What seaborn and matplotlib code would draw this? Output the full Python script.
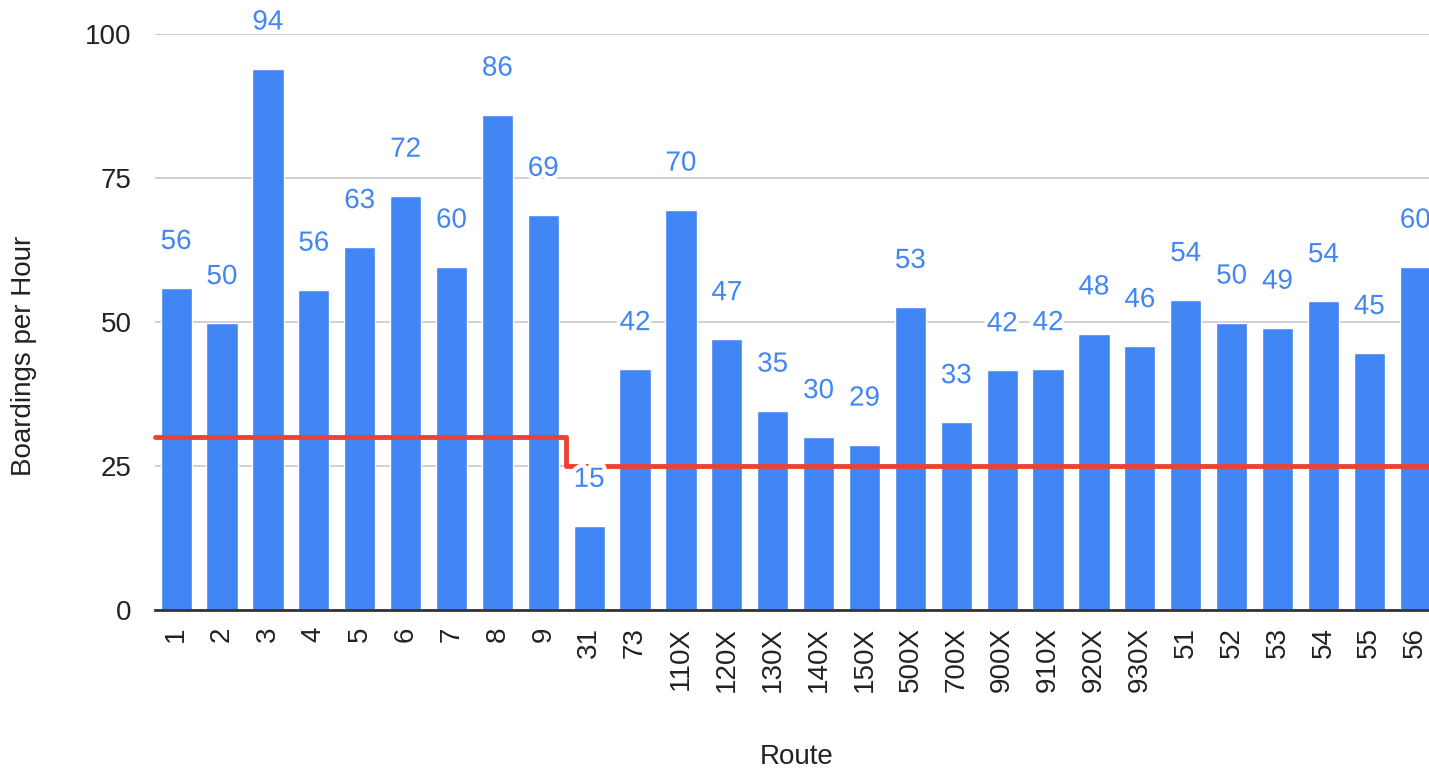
import numpy as np
import pandas as pd
import seaborn as sns
import matplotlib.pyplot as plt
import matplotlib.patheffects as pe

routes = ['1', '2', '3', '4', '5', '6', '7', '8', '9', '31', '73',
          '110X', '120X', '130X', '140X', '150X', '500X', '700X', '900X',
          '910X', '920X', '930X', '51', '52', '53', '54', '55', '56']
boardings = [55.9, 49.8, 94.0, 55.6, 63.0, 71.9, 59.6, 86.0, 68.6, 14.6, 41.8,
             69.5, 47.0, 34.6, 30.0, 28.7, 52.6, 32.6, 41.6, 41.8, 48.0,
             45.8, 53.8, 49.9, 49.0, 53.6, 44.6, 59.6]
# minimum boardings standard per route
standard = [30, 30, 30, 30, 30, 30, 30, 30, 30, 25, 25, 25, 25, 25, 25, 25,
            25, 25, 25, 25, 25, 25, 25, 25, 25, 25, 25, 25]

sns.set_style('white')
plt.rcParams['font.family'] = ['Liberation Sans', 'DejaVu Sans']

data = pd.DataFrame({'Route': routes, 'Boardings': boardings})

fig = plt.figure(figsize=(14.29, 7.73), dpi=100)
ax = fig.add_axes([155 / 1429, 163 / 773, 1 - 155 / 1429, 576 / 773])

sns.barplot(data=data, x='Route', y='Boardings', order=routes,
            color='#4285F4', saturation=1, width=0.68, ax=ax, zorder=2)

# step line for the standard
xs = [-0.46] + list(range(len(routes))) + [len(routes) - 0.5]
ys = [standard[0]] + standard + [standard[-1]]
ax.step(xs, ys, where='mid', color='#EA4335', lw=3.5, zorder=3,
        solid_joinstyle='round', clip_on=False)

for i, v in enumerate(boardings):
    ax.text(i, v + 8.0, f'{v:.0f}', ha='center', va='center', fontsize=20,
            color='#4285F4', zorder=4, clip_on=False,
            path_effects=[pe.withStroke(linewidth=6, foreground='white')])

ax.set_xlim(-0.46, 27.3)
ax.set_ylim(0, 100)
ax.set_yticks([0, 25, 50, 75, 100])
ax.yaxis.grid(True, color='#cccccc', lw=1.3, zorder=0)
ax.set_axisbelow(True)
for s in ['top', 'right', 'left']:
    ax.spines[s].set_visible(False)
ax.spines['bottom'].set_color('#333333')
ax.spines['bottom'].set_linewidth(2)
ax.tick_params(axis='y', length=0, pad=17, labelsize=20, labelcolor='#222222')
ax.tick_params(axis='x', length=0, pad=12, labelsize=20, labelcolor='#222222',
               labelrotation=90)
ax.set_xlabel('Route', fontsize=20, color='#222222')
ax.set_ylabel('Boardings per Hour', fontsize=20, color='#222222')
ax.xaxis.set_label_coords(0.504, -0.255)
ax.yaxis.set_label_coords(-0.103, 0.442)
ax.xaxis.label.set_va('center')
ax.yaxis.label.set_va('center')

fig.savefig('out.png', dpi=100)
